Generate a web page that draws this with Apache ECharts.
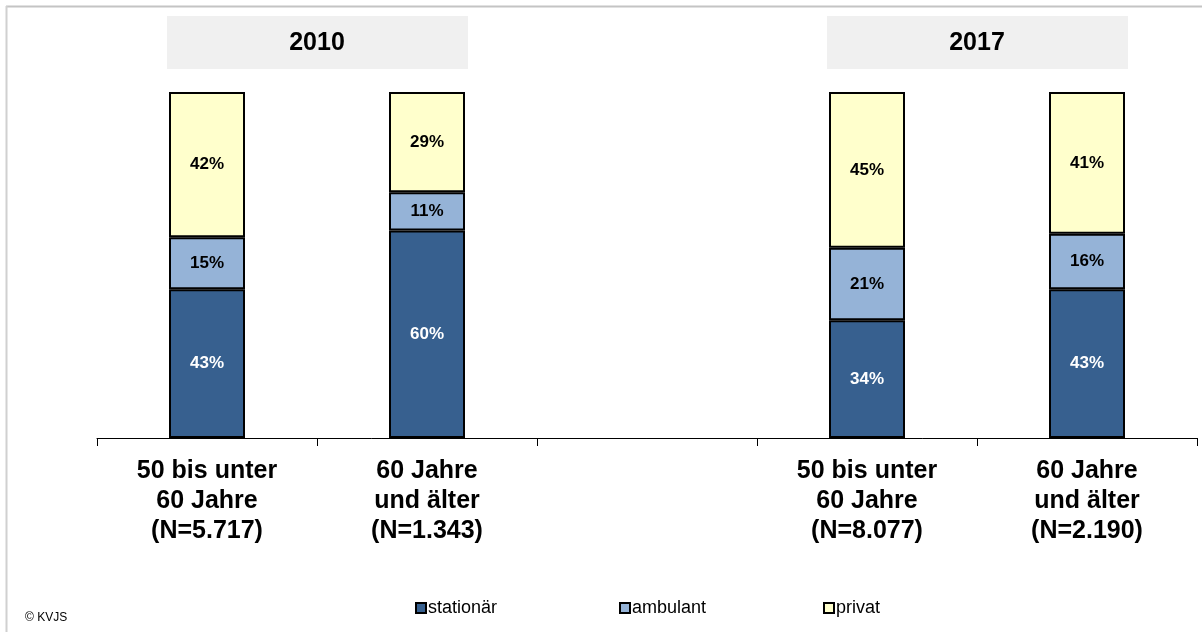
<!DOCTYPE html>
<html>
<head>
<meta charset="utf-8">
<script src="https://cdn.jsdelivr.net/npm/echarts@6/dist/echarts.min.js"></script>
<style>
  html, body { margin: 0; padding: 0; background: #fff; }
  #chart { width: 1202px; height: 632px; }
</style>
</head>
<body>
<div id="chart"></div>
<script>
var categories = [
  "50 bis unter\n60 Jahre\n(N=5.717)",
  "60 Jahre\nund älter\n(N=1.343)",
  "",
  "50 bis unter\n60 Jahre\n(N=8.077)",
  "60 Jahre\nund älter\n(N=2.190)",
];
var seriesNames = ["stationär", "ambulant", "privat"];
var stationaer = [43, 60, null, 34, 43];
var ambulant = [15, 11, null, 21, 16];
var privat = [42, 29, null, 45, 41];
var years = ["2010", "2017"];
// each year header spans these two categories
var yearGroups = [
  [0, 1],
  [3, 4],
];

var fontFamily = "'Liberation Sans', Arial, sans-serif";

function renderChart() {
  var chartDom = document.getElementById("chart");
  var myChart = echarts.init(chartDom);
  var option;

  function barSeries(name, data, color, labelColor) {
    return {
      name: name,
      type: "bar",
      stack: "total",
      barWidth: 76,
      data: data,
      itemStyle: {
        color: color,
        borderColor: "#000",
        borderWidth: 2,
      },
      label: {
        show: true,
        position: "inside",
        formatter: "{c}%",
        color: labelColor,
        fontFamily: fontFamily,
        fontWeight: "bold",
        fontSize: 17,
      },
      emphasis: { disabled: true },
    };
  }

  // one legend per item so the items sit at even spacing
  var legendLeft = [410, 614, 818];
  var legends = seriesNames.map(function (name, i) {
    return {
      left: legendLeft[i],
      top: 594,
      itemWidth: 10,
      itemHeight: 10,
      icon: "rect",
      textStyle: {
        fontFamily: fontFamily,
        fontSize: 18,
        color: "#000",
        padding: [0, 0, 0, -3],
      },
      data: [name],
    };
  });

  option = {
    animation: false,
    grid: {
      left: 97,
      right: 5,
      top: 92,
      bottom: 194,
    },
    legend: legends,
    xAxis: {
      type: "category",
      data: categories,
      axisLine: { lineStyle: { color: "#000", width: 1 } },
      axisTick: {
        show: true,
        length: 8,
        interval: 0,
        lineStyle: { color: "#000" },
      },
      axisLabel: {
        interval: 0,
        margin: 18,
        color: "#000",
        fontFamily: fontFamily,
        fontWeight: "bold",
        fontSize: 25,
        lineHeight: 30,
      },
    },
    yAxis: {
      type: "value",
      min: 0,
      max: 100,
      show: false,
    },
    series: [
      barSeries(seriesNames[0], stationaer, "#37608F", "#fff"),
      barSeries(seriesNames[1], ambulant, "#95B3D7", "#000"),
      barSeries(seriesNames[2], privat, "#FFFFCC", "#000"),
    ],
  };

  option && myChart.setOption(option);

  // frame, copyright and year header boxes centred over their two categories
  var graphics = [
    {
      type: "line",
      shape: { x1: 6, y1: 6.5, x2: 1202, y2: 6.5 },
      style: { stroke: "#c4c4c4", lineWidth: 2 },
    },
    {
      type: "line",
      shape: { x1: 6.5, y1: 6, x2: 6.5, y2: 632 },
      style: { stroke: "#d0d0d0", lineWidth: 2 },
    },
    {
      type: "text",
      left: 25,
      top: 612,
      style: {
        text: "© KVJS",
        fill: "#000",
        font: "12px " + fontFamily,
      },
    },
  ];
  yearGroups.forEach(function (g, i) {
    var a = myChart.convertToPixel({ xAxisIndex: 0 }, g[0]);
    var b = myChart.convertToPixel({ xAxisIndex: 0 }, g[1]);
    var cx = (a + b) / 2;
    graphics.push({
      type: "rect",
      shape: { x: cx - 150, y: 16, width: 301, height: 53 },
      style: { fill: "#f0f0f0" },
    });
    graphics.push({
      type: "text",
      x: cx,
      y: 43,
      style: {
        text: years[i],
        fill: "#000",
        font: "bold 25px " + fontFamily,
        align: "center",
        verticalAlign: "middle",
      },
    });
  });
  myChart.setOption({ graphic: graphics });
}
renderChart();
</script>
</body>
</html>
